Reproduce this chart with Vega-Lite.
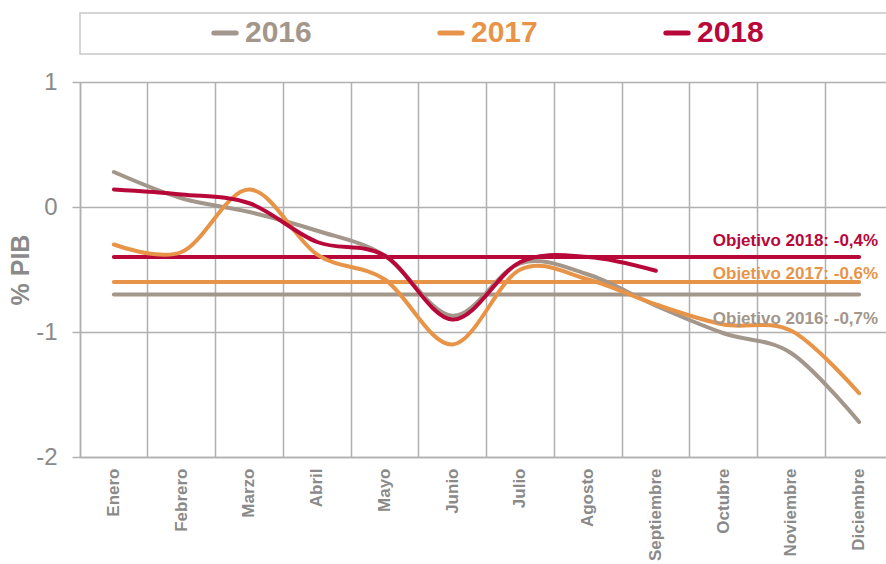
{
  "$schema": "https://vega.github.io/schema/vega-lite/v6.json",
  "padding": {"left": 8, "top": 12, "right": 0, "bottom": 0},
  "background": "white",
  "config": {
    "font": "Liberation Sans",
    "view": {"stroke": null}
  },
  "datasets": {
    "series": [
      {"month": "Enero", "year": "2016", "value": 0.28},
      {"month": "Febrero", "year": "2016", "value": 0.07},
      {"month": "Marzo", "year": "2016", "value": -0.04},
      {"month": "Abril", "year": "2016", "value": -0.19},
      {"month": "Mayo", "year": "2016", "value": -0.39},
      {"month": "Junio", "year": "2016", "value": -0.87},
      {"month": "Julio", "year": "2016", "value": -0.45},
      {"month": "Agosto", "year": "2016", "value": -0.54},
      {"month": "Septiembre", "year": "2016", "value": -0.79},
      {"month": "Octubre", "year": "2016", "value": -1.01},
      {"month": "Noviembre", "year": "2016", "value": -1.17},
      {"month": "Diciembre", "year": "2016", "value": -1.72},
      {"month": "Enero", "year": "2017", "value": -0.3},
      {"month": "Febrero", "year": "2017", "value": -0.36},
      {"month": "Marzo", "year": "2017", "value": 0.14},
      {"month": "Abril", "year": "2017", "value": -0.38},
      {"month": "Mayo", "year": "2017", "value": -0.58},
      {"month": "Junio", "year": "2017", "value": -1.1},
      {"month": "Julio", "year": "2017", "value": -0.5},
      {"month": "Agosto", "year": "2017", "value": -0.58},
      {"month": "Septiembre", "year": "2017", "value": -0.78},
      {"month": "Octubre", "year": "2017", "value": -0.94},
      {"month": "Noviembre", "year": "2017", "value": -0.99},
      {"month": "Diciembre", "year": "2017", "value": -1.49},
      {"month": "Enero", "year": "2018", "value": 0.14},
      {"month": "Febrero", "year": "2018", "value": 0.1},
      {"month": "Marzo", "year": "2018", "value": 0.03},
      {"month": "Abril", "year": "2018", "value": -0.28},
      {"month": "Mayo", "year": "2018", "value": -0.39},
      {"month": "Junio", "year": "2018", "value": -0.9},
      {"month": "Julio", "year": "2018", "value": -0.44},
      {"month": "Agosto", "year": "2018", "value": -0.4},
      {"month": "Septiembre", "year": "2018", "value": -0.51}
    ],
    "targets": [
      {"year": "2016", "target": -0.7, "label": "Objetivo 2016: -0,7%"},
      {"year": "2017", "target": -0.6, "label": "Objetivo 2017: -0,6%"},
      {"year": "2018", "target": -0.4, "label": "Objetivo 2018: -0,4%"}
    ]
  },
  "spacing": 15,
  "resolve": {"legend": {"color": "independent"}},
  "vconcat": [
    {
      "width": 813,
      "height": 41,
      "view": {"stroke": "#c8c8c8", "strokeWidth": 1.5},
      "data": {"name": "targets"},
      "mark": {"type": "text", "opacity": 0},
      "encoding": {
        "text": {"field": "label"},
        "color": {
          "field": "year",
          "type": "nominal",
          "scale": {"domain": ["2016", "2017", "2018"], "range": ["#a3968a", "#e89448", "#b8083a"]},
          "legend": {
            "title": null,
            "orient": "none",
            "legendX": 130,
            "legendY": 5,
            "direction": "horizontal",
            "columns": 3,
            "columnPadding": 117,
            "padding": 0,
            "symbolType": "stroke",
            "symbolSize": 500,
            "symbolStrokeWidth": 5,
            "labelFont": "Liberation Sans",
            "labelFontWeight": "bold",
            "labelFontSize": 30,
            "labelOffset": 5,
            "encode": {
              "symbols": {"update": {
                "strokeCap": {"value": "round"},
                "stroke": {"scale": "color", "field": "value"},
                "strokeWidth": {"value": 5},
                "opacity": {"value": 1},
                "strokeOpacity": {"value": 1}
              }},
              "labels": {"update": {"fill": {"scale": "color", "field": "value"}}}
            }
          }
        }
      }
    },
    {
      "width": 813,
      "height": 375,
      "encoding": {
        "x": {
          "field": "month",
          "type": "nominal",
          "scale": {
            "domain": ["Enero", "Febrero", "Marzo", "Abril", "Mayo", "Junio", "Julio", "Agosto", "Septiembre", "Octubre", "Noviembre", "Diciembre"],
            "paddingInner": 0,
            "paddingOuter": 0
          },
          "axis": {
            "title": null,
            "bandPosition": 0,
            "grid": true,
            "gridColor": "#b0b0b0",
            "gridWidth": 1.5,
            "ticks": false,
            "domainColor": "#b0b0b0",
            "domainWidth": 1.5,
            "labelAngle": -90,
            "labelAlign": "right",
            "labelBaseline": "middle",
            "labelPadding": 11,
            "labelFont": "Liberation Sans",
            "labelFontWeight": "bold",
            "labelFontSize": 17,
            "labelColor": "#8a8a8a",
            "labelLimit": 200
          }
        }
      },
      "layer": [
        {
          "data": {"name": "targets"},
          "mark": {"type": "rule", "strokeWidth": 4, "strokeCap": "round"},
          "encoding": {
            "x": {"datum": "Enero", "bandPosition": 0.5},
            "x2": {"datum": "Diciembre", "bandPosition": 0.5},
            "y": {
              "field": "target",
              "type": "quantitative",
              "scale": {"domain": [-2, 1], "nice": false, "zero": false},
              "axis": {
                "title": "% PIB",
                "titleFont": "Liberation Sans",
                "titleFontWeight": "bold",
                "titleFontSize": 25,
                "titleColor": "#8a8a8a",
                "titlePadding": 2,
                "values": [-2, -1, 0, 1],
                "grid": true,
                "gridColor": "#b0b0b0",
                "gridWidth": 1.5,
                "domainColor": "#b0b0b0",
                "domainWidth": 1.5,
                "tickColor": "#b0b0b0",
                "tickWidth": 1.5,
                "tickSize": 8,
                "labelPadding": 15,
                "labelFont": "Liberation Sans",
                "labelFontSize": 24,
                "labelColor": "#8a8a8a",
                "labelExpr": "'' + datum.value"
              }
            },
            "color": {"field": "year", "type": "nominal", "legend": null}
          }
        },
        {
          "data": {"name": "series"},
          "mark": {"type": "line", "strokeWidth": 4, "strokeCap": "round", "interpolate": "cardinal"},
          "encoding": {
            "x": {"field": "month", "type": "nominal"},
            "y": {"field": "value", "type": "quantitative"},
            "color": {"field": "year", "type": "nominal", "legend": null}
          }
        },
        {
          "data": {"name": "targets"},
          "transform": [{"filter": "datum.year == '2018'"}],
          "mark": {"type": "text", "align": "right", "baseline": "alphabetic", "dx": 19, "dy": -11, "font": "Liberation Sans", "fontWeight": "bold", "fontSize": 17},
          "encoding": {
            "x": {"datum": "Diciembre", "bandPosition": 0.5},
            "y": {"field": "target", "type": "quantitative"},
            "text": {"field": "label"},
            "color": {"field": "year", "type": "nominal", "legend": null}
          }
        },
        {
          "data": {"name": "targets"},
          "transform": [{"filter": "datum.year == '2017'"}],
          "mark": {"type": "text", "align": "right", "baseline": "alphabetic", "dx": 19, "dy": -3, "font": "Liberation Sans", "fontWeight": "bold", "fontSize": 17},
          "encoding": {
            "x": {"datum": "Diciembre", "bandPosition": 0.5},
            "y": {"field": "target", "type": "quantitative"},
            "text": {"field": "label"},
            "color": {"field": "year", "type": "nominal", "legend": null}
          }
        },
        {
          "data": {"name": "targets"},
          "transform": [{"filter": "datum.year == '2016'"}],
          "mark": {"type": "text", "align": "right", "baseline": "alphabetic", "dx": 19, "dy": 29, "font": "Liberation Sans", "fontWeight": "bold", "fontSize": 17},
          "encoding": {
            "x": {"datum": "Diciembre", "bandPosition": 0.5},
            "y": {"field": "target", "type": "quantitative"},
            "text": {"field": "label"},
            "color": {"field": "year", "type": "nominal", "legend": null}
          }
        }
      ]
    }
  ]
}
